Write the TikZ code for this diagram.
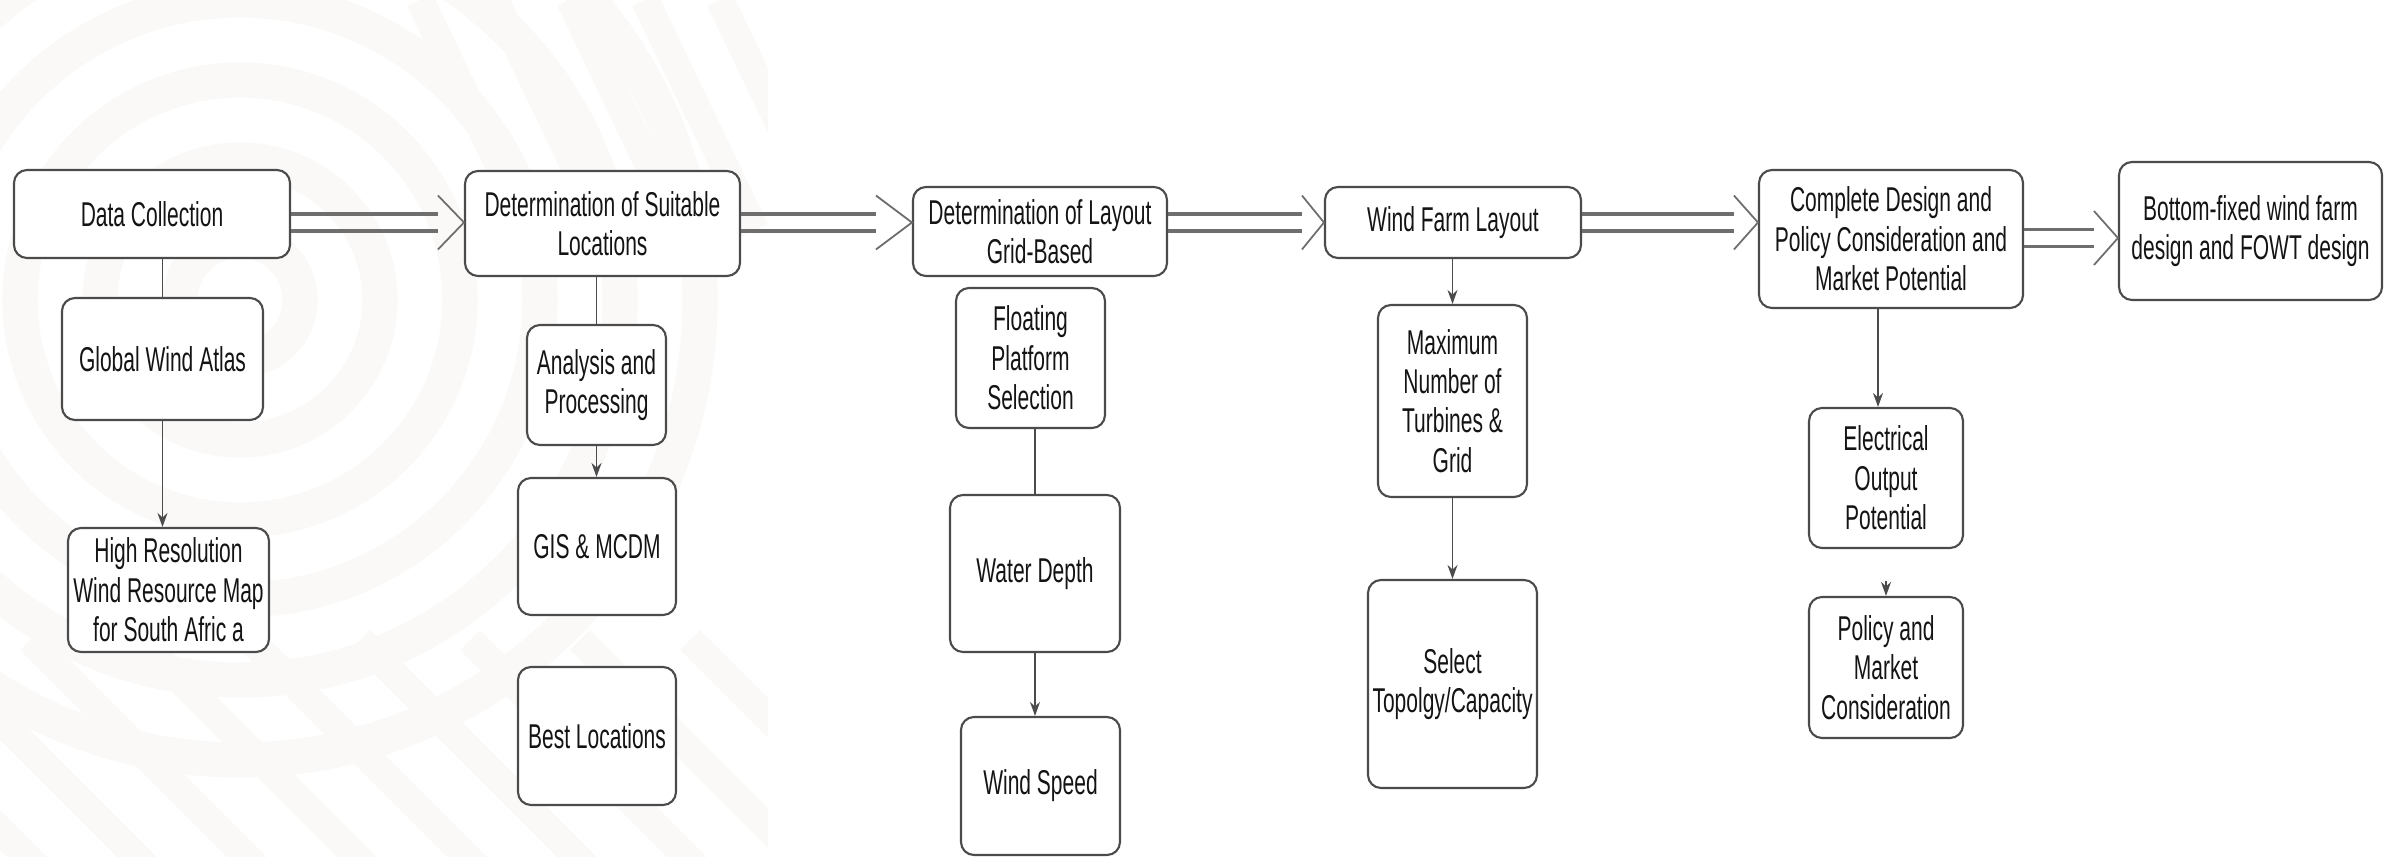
\documentclass[tikz,border=0pt]{standalone}
\usepackage{fontspec}
\setmainfont{Liberation Sans}[FakeStretch=0.61]
\usetikzlibrary{calc,arrows.meta}
\definecolor{wm}{RGB}{250,249,247}
\definecolor{boxline}{RGB}{75,75,75}
\definecolor{txt}{RGB}{20,20,20}
\definecolor{shaftc}{RGB}{110,110,110}
\newcommand{\blockarrow}[4]{%
  \coordinate (tip) at ($(#2.west)+(0,#3)$);
  \coordinate (tipU) at ($(tip)+(0,0.85mm)$);
  \coordinate (tipD) at ($(tip)+(0,-0.85mm)$);
  \draw[shaft] (#1.east |- tipU) -- ($(tipU)+(-#4,0)$);
  \draw[shaft] (#1.east |- tipD) -- ($(tipD)+(-#4,0)$);
  \draw[head] ($(tip)+(-#4,2.7mm)$) -- (tip) -- ($(tip)+(-#4,-2.7mm)$);
}
\begin{document}
\begin{tikzpicture}[x=0.1mm,y=-0.1mm,
  box/.style={draw=boxline, line width=0.6pt, rounded corners=1.3mm, align=center,
    text=txt, font=\fontsize{9.8}{11.2}\selectfont, inner sep=0pt, fill=white},
  wh/.style 2 args={minimum width=#1*0.1mm, minimum height=#2*0.1mm},
  conn/.style={draw=boxline, line width=0.45pt},
  arr/.style={conn, -{Stealth[length=1.4mm,width=1mm]}},
  shaft/.style={draw=shaftc, line width=0.9pt},
  head/.style={draw=shaftc, line width=0.5pt, line join=miter}
]
\useasboundingbox (0,0) rectangle (2394,857);
\fill[white] (0,0) rectangle (2394,857);
% faint watermark
\begin{scope}
  \clip (0,0) rectangle (768,857);
  \foreach \r in {6,14,22,30,38,46} \draw[wm, line width=10pt] (240,300) circle (\r mm);
  \foreach \k in {0,...,9} \draw[wm, line width=8pt] (-300+\k*110,640) -- ++(260,260);
  \foreach \k in {0,...,5} \draw[wm, line width=8pt] (420+\k*75,0) -- ++(110,230);
\end{scope}

% main row
\node[box, wh={276}{88}] (dc) at (152,214) {Data Collection};
\node[box, wh={275}{105}] (dsl) at (602.5,223.5) {Determination of Suitable\\Locations};
\node[box, wh={254}{89}] (dlg) at (1040,231.5) {Determination of Layout\\Grid-Based};
\node[box, wh={256}{71}] (wfl) at (1453,222.5) {Wind Farm Layout};
\node[box, wh={264}{138}] (cdp) at (1891,239) {Complete Design and\\Policy Consideration and\\Market Potential};
\node[box, wh={263}{138}] (bf) at (2250.5,231) {Bottom-fixed wind farm\\design and FOWT design};

% column 1
\node[box, wh={201}{122}] (gwa) at (162.5,359) {Global Wind Atlas};
\node[box, wh={201}{124}] (hr) at (168.5,590) {High Resolution\\Wind Resource Map\\for South Afric a};
% column 2
\node[box, wh={139}{120}] (ap) at (596.5,385) {Analysis and\\Processing};
\node[box, wh={158}{137}] (gis) at (597,546.5) {GIS \& MCDM};
\node[box, wh={158}{138}] (best) at (597,736) {Best Locations};
% column 3
\node[box, wh={149}{140}] (fps) at (1030.5,358) {Floating\\Platform\\Selection};
\node[box, wh={170}{157}] (wd) at (1035,573.5) {Water Depth};
\node[box, wh={159}{138}] (ws) at (1040.5,786) {Wind Speed};
% column 4
\node[box, wh={149}{192}] (mnt) at (1452.5,401) {Maximum\\Number of\\Turbines \&\\Grid};
\node[box, wh={169}{208}] (stc) at (1452.5,684) {Select\\Topolgy/Capacity};
% column 5
\node[box, wh={154}{140}] (eop) at (1886,478) {Electrical\\Output\\Potential};
\node[box, wh={154}{141}] (pmc) at (1886,667.5) {Policy and\\Market\\Consideration};

% block arrows
\blockarrow{dc}{dsl}{0.1mm}{2.6mm}
\blockarrow{dsl}{dlg}{0.9mm}{3.6mm}
\blockarrow{dlg}{wfl}{0mm}{2.2mm}
\blockarrow{wfl}{cdp}{1.65mm}{2.4mm}
\blockarrow{cdp}{bf}{-0.7mm}{2.4mm}

% vertical connectors
\draw[conn] (gwa.north |- dc.south) -- (gwa.north);
\draw[arr] (gwa.south) -- (gwa.south |- hr.north);
\draw[conn] (ap.north |- dsl.south) -- (ap.north);
\draw[arr] (ap.south) -- (ap.south |- gis.north);
\draw[conn] (wd.north |- fps.south) -- (wd.north);
\draw[arr] (wd.south) -- (wd.south |- ws.north);
\draw[arr] (mnt.north |- wfl.south) -- (mnt.north);
\draw[arr] (mnt.south) -- (mnt.south |- stc.north);
\coordinate (eopin) at ([xshift=-0.8mm]eop.north);
\draw[arr] (eopin |- cdp.south) -- (eopin);
\coordinate (pmcin) at ([yshift=1.5mm]pmc.north);
\draw[arr] (pmcin) -- (pmc.north);
\end{tikzpicture}
\end{document}
